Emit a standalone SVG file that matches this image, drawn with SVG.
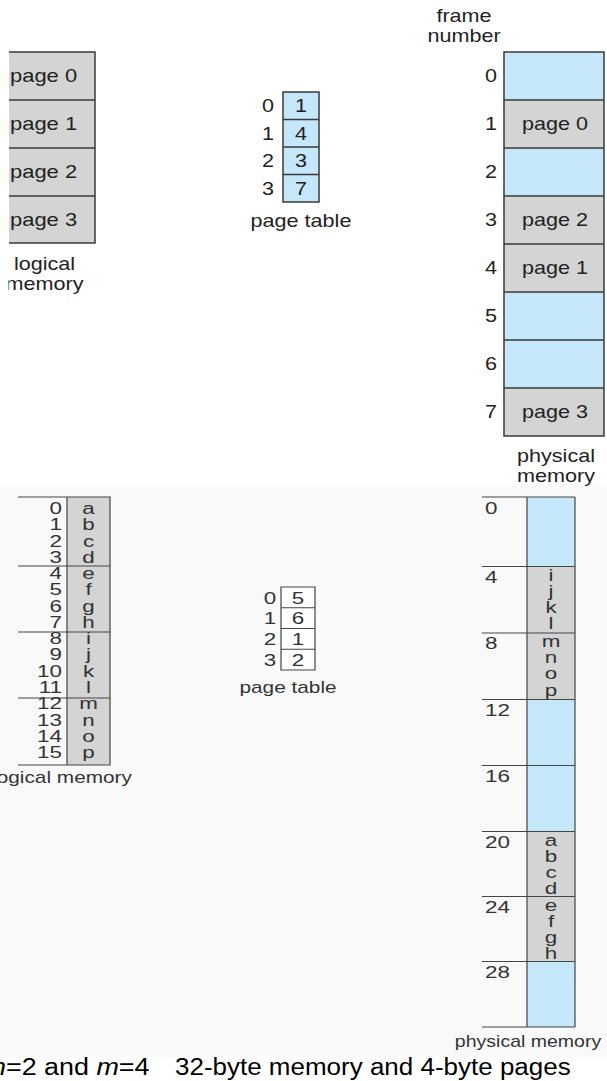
<svg xmlns="http://www.w3.org/2000/svg" width="607" height="1081" viewBox="0 0 607 1081">
<style>
text { font-family: "Liberation Sans", Arial, Helvetica, sans-serif; }
.t1 { font-size: 18px; fill: #222; }
.t2 { font-size: 16px; fill: #333; }
.cap { font-size: 23px; fill: #000; }
.mid { text-anchor: middle; }
.end { text-anchor: end; }
.grey { fill: #d4d4d4; }
.blue { fill: #c4e7f9; }
.white { fill: #ffffff; }
.ln { stroke: #3a3a3a; stroke-width: 1.5; fill: none; }
.ln2 { stroke: #444; stroke-width: 1.2; fill: none; }
</style>
<defs>
<clipPath id="clipL"><rect x="8.5" y="0" width="200" height="320"/></clipPath>
</defs>
<rect x="0" y="0" width="607" height="1081" fill="#ffffff"/>
<rect x="0" y="485" width="607" height="572" fill="#f9f9f9"/>

<!-- TOP: logical memory -->
<g id="logical-memory-top" clip-path="url(#clipL)">
<rect class="grey" x="9" y="52" width="86" height="191"/>
<path class="ln" d="M9 52H95V243H9M9 100H95M9 148H95M9 196H95"/>
<text class="t1" transform="translate(10 82) scale(1.22 1)">page 0</text>
<text class="t1" transform="translate(10 130) scale(1.22 1)">page 1</text>
<text class="t1" transform="translate(10 178) scale(1.22 1)">page 2</text>
<text class="t1" transform="translate(10 226) scale(1.22 1)">page 3</text>
<text class="t1 mid" transform="translate(44.5 270) scale(1.2 1)">logical</text>
<text class="t1 mid" transform="translate(44.5 290) scale(1.2 1)">memory</text>
</g>

<!-- TOP: page table -->
<g id="page-table-top">
<rect class="blue" x="283" y="92" width="36" height="110"/>
<path class="ln" d="M283 92H319V202H283ZM283 119.5H319M283 147H319M283 174.5H319"/>
<text class="t1 mid" transform="translate(301 112) scale(1.2 1)">1</text>
<text class="t1 mid" transform="translate(301 139.5) scale(1.2 1)">4</text>
<text class="t1 mid" transform="translate(301 167) scale(1.2 1)">3</text>
<text class="t1 mid" transform="translate(301 194.5) scale(1.2 1)">7</text>
<text class="t1 mid" transform="translate(268 112) scale(1.2 1)">0</text>
<text class="t1 mid" transform="translate(268 139.5) scale(1.2 1)">1</text>
<text class="t1 mid" transform="translate(268 167) scale(1.2 1)">2</text>
<text class="t1 mid" transform="translate(268 194.5) scale(1.2 1)">3</text>
<text class="t1 mid" transform="translate(301 227) scale(1.2 1)">page table</text>
</g>

<!-- TOP: physical memory -->
<g id="physical-memory-top">
<rect class="blue" x="504" y="52" width="100" height="48"/>
<rect class="grey" x="504" y="100" width="100" height="48"/>
<rect class="blue" x="504" y="148" width="100" height="48"/>
<rect class="grey" x="504" y="196" width="100" height="96"/>
<rect class="blue" x="504" y="292" width="100" height="96"/>
<rect class="grey" x="504" y="388" width="100" height="48"/>
<path class="ln" d="M504 52H604V436H504ZM504 100H604M504 148H604M504 196H604M504 244H604M504 292H604M504 340H604M504 388H604"/>
<text class="t1 mid" transform="translate(464 22) scale(1.2 1)">frame</text>
<text class="t1 mid" transform="translate(464 42) scale(1.2 1)">number</text>
<text class="t1 end" transform="translate(497 82) scale(1.2 1)">0</text>
<text class="t1 end" transform="translate(497 130) scale(1.2 1)">1</text>
<text class="t1 end" transform="translate(497 178) scale(1.2 1)">2</text>
<text class="t1 end" transform="translate(497 226) scale(1.2 1)">3</text>
<text class="t1 end" transform="translate(497 274) scale(1.2 1)">4</text>
<text class="t1 end" transform="translate(497 322) scale(1.2 1)">5</text>
<text class="t1 end" transform="translate(497 370) scale(1.2 1)">6</text>
<text class="t1 end" transform="translate(497 418) scale(1.2 1)">7</text>
<text class="t1 mid" transform="translate(555 130) scale(1.2 1)">page 0</text>
<text class="t1 mid" transform="translate(555 226) scale(1.2 1)">page 2</text>
<text class="t1 mid" transform="translate(555 274) scale(1.2 1)">page 1</text>
<text class="t1 mid" transform="translate(555 418) scale(1.2 1)">page 3</text>
<text class="t1 mid" transform="translate(556 462) scale(1.2 1)">physical</text>
<text class="t1 mid" transform="translate(556 482) scale(1.2 1)">memory</text>
</g>

<!-- BOTTOM: logical memory -->
<g id="logical-memory-bottom">
<rect class="grey" x="67" y="497" width="43" height="268"/>
<path class="ln2" d="M18 497H110V765H18M18 566H110M18 632H110M18 698H110M67 497V765"/>
<g class="t2 end">
<text transform="translate(62 514) scale(1.4 1)">0</text>
<text transform="translate(62 530.3) scale(1.4 1)">1</text>
<text transform="translate(62 546.5) scale(1.4 1)">2</text>
<text transform="translate(62 562.8) scale(1.4 1)">3</text>
<text transform="translate(62 579.1) scale(1.4 1)">4</text>
<text transform="translate(62 595.4) scale(1.4 1)">5</text>
<text transform="translate(62 611.6) scale(1.4 1)">6</text>
<text transform="translate(62 627.9) scale(1.4 1)">7</text>
<text transform="translate(62 644.2) scale(1.4 1)">8</text>
<text transform="translate(62 660.4) scale(1.4 1)">9</text>
<text transform="translate(62 676.7) scale(1.4 1)">10</text>
<text transform="translate(62 693) scale(1.4 1)">11</text>
<text transform="translate(62 709.2) scale(1.4 1)">12</text>
<text transform="translate(62 725.5) scale(1.4 1)">13</text>
<text transform="translate(62 741.8) scale(1.4 1)">14</text>
<text transform="translate(62 758) scale(1.4 1)">15</text>
</g>
<g class="t2 mid">
<text transform="translate(88.5 514) scale(1.4 1)">a</text>
<text transform="translate(88.5 530.3) scale(1.4 1)">b</text>
<text transform="translate(88.5 546.5) scale(1.4 1)">c</text>
<text transform="translate(88.5 562.8) scale(1.4 1)">d</text>
<text transform="translate(88.5 579.1) scale(1.4 1)">e</text>
<text transform="translate(88.5 595.4) scale(1.4 1)">f</text>
<text transform="translate(88.5 611.6) scale(1.4 1)">g</text>
<text transform="translate(88.5 627.9) scale(1.4 1)">h</text>
<text transform="translate(88.5 644.2) scale(1.4 1)">i</text>
<text transform="translate(88.5 660.4) scale(1.4 1)">j</text>
<text transform="translate(88.5 676.7) scale(1.4 1)">k</text>
<text transform="translate(88.5 693) scale(1.4 1)">l</text>
<text transform="translate(88.5 709.2) scale(1.4 1)">m</text>
<text transform="translate(88.5 725.5) scale(1.4 1)">n</text>
<text transform="translate(88.5 741.8) scale(1.4 1)">o</text>
<text transform="translate(88.5 758) scale(1.4 1)">p</text>
</g>
<text class="t2 mid" transform="translate(62 783) scale(1.3 1)">logical memory</text>
</g>

<!-- BOTTOM: page table -->
<g id="page-table-bottom">
<rect class="white" x="281" y="587" width="34" height="83"/>
<path class="ln2" d="M281 587H315V670H281ZM281 607.75H315M281 628.5H315M281 649.25H315"/>
<g class="t2 mid">
<text transform="translate(298 603.5) scale(1.4 1)">5</text>
<text transform="translate(298 624.25) scale(1.4 1)">6</text>
<text transform="translate(298 645) scale(1.4 1)">1</text>
<text transform="translate(298 665.75) scale(1.4 1)">2</text>
<text transform="translate(270 603.5) scale(1.4 1)">0</text>
<text transform="translate(270 624.25) scale(1.4 1)">1</text>
<text transform="translate(270 645) scale(1.4 1)">2</text>
<text transform="translate(270 665.75) scale(1.4 1)">3</text>
<text transform="translate(288 693) scale(1.3 1)">page table</text>
</g>
</g>

<!-- BOTTOM: physical memory -->
<g id="physical-memory-bottom">
<rect class="blue" x="527" y="497" width="48" height="69.5"/>
<rect class="grey" x="527" y="566.5" width="48" height="133"/>
<rect class="blue" x="527" y="699.5" width="48" height="132"/>
<rect class="grey" x="527" y="831.5" width="48" height="130"/>
<rect class="blue" x="527" y="961.5" width="48" height="65.5"/>
<path class="ln2" d="M482 497H575M482 566.5H575M482 633H575M482 699.5H575M482 765.5H575M482 831.5H575M482 896.5H575M482 961.5H575M482 1027H575M527 497V1027M575 497V1027"/>
<g class="t2">
<text transform="translate(485 514) scale(1.4 1)">0</text>
<text transform="translate(485 582.5) scale(1.4 1)">4</text>
<text transform="translate(485 649) scale(1.4 1)">8</text>
<text transform="translate(485 715.5) scale(1.4 1)">12</text>
<text transform="translate(485 781.5) scale(1.4 1)">16</text>
<text transform="translate(485 847.5) scale(1.4 1)">20</text>
<text transform="translate(485 912.5) scale(1.4 1)">24</text>
<text transform="translate(485 977.5) scale(1.4 1)">28</text>
</g>
<g class="t2 mid">
<text transform="translate(551 580.5) scale(1.4 1)">i</text>
<text transform="translate(551 596.7) scale(1.4 1)">j</text>
<text transform="translate(551 612.9) scale(1.4 1)">k</text>
<text transform="translate(551 629.1) scale(1.4 1)">l</text>
<text transform="translate(551 647) scale(1.4 1)">m</text>
<text transform="translate(551 663.2) scale(1.4 1)">n</text>
<text transform="translate(551 679.4) scale(1.4 1)">o</text>
<text transform="translate(551 695.6) scale(1.4 1)">p</text>
<text transform="translate(551 845.5) scale(1.4 1)">a</text>
<text transform="translate(551 861.7) scale(1.4 1)">b</text>
<text transform="translate(551 877.9) scale(1.4 1)">c</text>
<text transform="translate(551 894.1) scale(1.4 1)">d</text>
<text transform="translate(551 910.5) scale(1.4 1)">e</text>
<text transform="translate(551 926.7) scale(1.4 1)">f</text>
<text transform="translate(551 942.9) scale(1.4 1)">g</text>
<text transform="translate(551 959.1) scale(1.4 1)">h</text>
<text transform="translate(528 1047) scale(1.22 1)">physical memory</text>
</g>
</g>

<!-- caption -->
<g id="caption">
<text class="cap" transform="translate(-9 1075) scale(1.17 1)"><tspan font-style="italic">n</tspan>=2 and <tspan font-style="italic">m</tspan>=4</text>
<text class="cap" transform="translate(175 1075) scale(1.13 1)">32-byte memory and 4-byte pages</text>
</g>
</svg>
